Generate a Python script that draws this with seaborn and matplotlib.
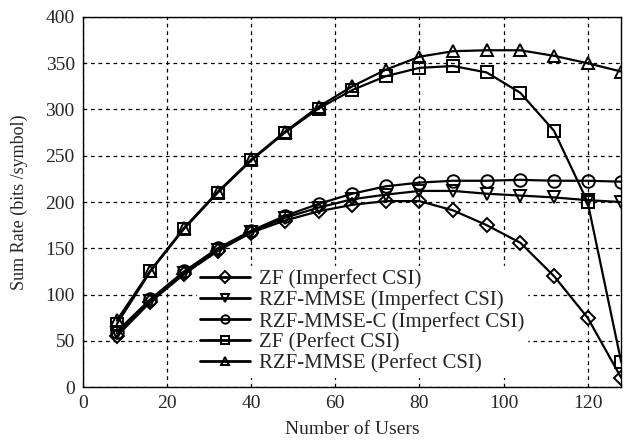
import numpy as np
import pandas as pd
import seaborn as sns
import matplotlib.pyplot as plt

# data
users = [8, 16, 24, 32, 40, 48, 56, 64, 72, 80, 88, 96, 104, 112, 120, 128]
zf_imp = [55, 92, 122, 147, 167, 180, 190, 197, 201, 201, 191, 175, 156, 120, 75, 10]
rzf_imp = [58, 93, 123, 148, 168, 183, 194, 203, 208, 212, 212, 209, 207, 205, 202, 200]
rzfc_imp = [60, 95, 125, 150, 169, 185, 198, 209, 217, 221, 223, 223, 224, 223, 223, 222]
zf_perf = [68, 125, 171, 210, 245, 275, 301, 321, 336, 345, 347, 340, 318, 277, 200, 27]
rzf_perf = [72, 126, 172, 211, 246, 276, 303, 325, 343, 357, 363, 364, 364, 358, 350, 341]

labels = ['ZF (Imperfect CSI)', 'RZF-MMSE (Imperfect CSI)', 'RZF-MMSE-C (Imperfect CSI)',
          'ZF (Perfect CSI)', 'RZF-MMSE (Perfect CSI)']
series = [zf_imp, rzf_imp, rzfc_imp, zf_perf, rzf_perf]
markers = ['D', 'v', 'o', 's', '^']
msizes = [7, 9, 9, 8, 9]

sns.set_style('white')
plt.rcParams['font.family'] = ['Liberation Serif', 'DejaVu Serif']

fig = plt.figure(figsize=(6.25, 4.46), dpi=100)
ax = fig.add_axes([0.133, 0.132, 0.861, 0.83])

for lab, vals, m, ms in zip(labels, series, markers, msizes):
    df = pd.DataFrame({'users': users, 'rate': vals})
    sns.lineplot(data=df, x='users', y='rate', ax=ax, color='black', linewidth=1.6,
                 marker=m, markersize=ms, markerfacecolor='none', markeredgecolor='black',
                 markeredgewidth=1.4, label=lab)

ax.set_xlim(0, 128)
ax.set_ylim(0, 400)
ax.set_xticks(np.arange(0, 121, 20))
ax.set_yticks(np.arange(0, 401, 50))
ax.grid(True, color='black', linestyle=(0, (3, 3)), linewidth=0.9)
ax.tick_params(labelsize=14, direction='in', length=4, width=0.8, pad=6)
for s in ax.spines.values():
    s.set_color('black')
    s.set_linewidth(1.0)
ax.set_xlabel('Number of Users', fontsize=14, labelpad=6)
ax.set_ylabel('Sum Rate (bits /symbol)', fontsize=13)
ax.yaxis.set_label_coords(-0.102, 0.5)

leg = ax.legend(loc='lower left', bbox_to_anchor=(0.212, 0.028), fontsize=15, frameon=True,
                fancybox=False, borderpad=0.15, labelspacing=0.07, handlelength=2.4,
                handletextpad=0.4, borderaxespad=0.0)
leg.get_frame().set_edgecolor('white')
leg.get_frame().set_alpha(1.0)
for h in leg.legend_handles:
    h.set_markersize(6)
    h.set_linewidth(2)

fig.savefig('out.png', dpi=100)
